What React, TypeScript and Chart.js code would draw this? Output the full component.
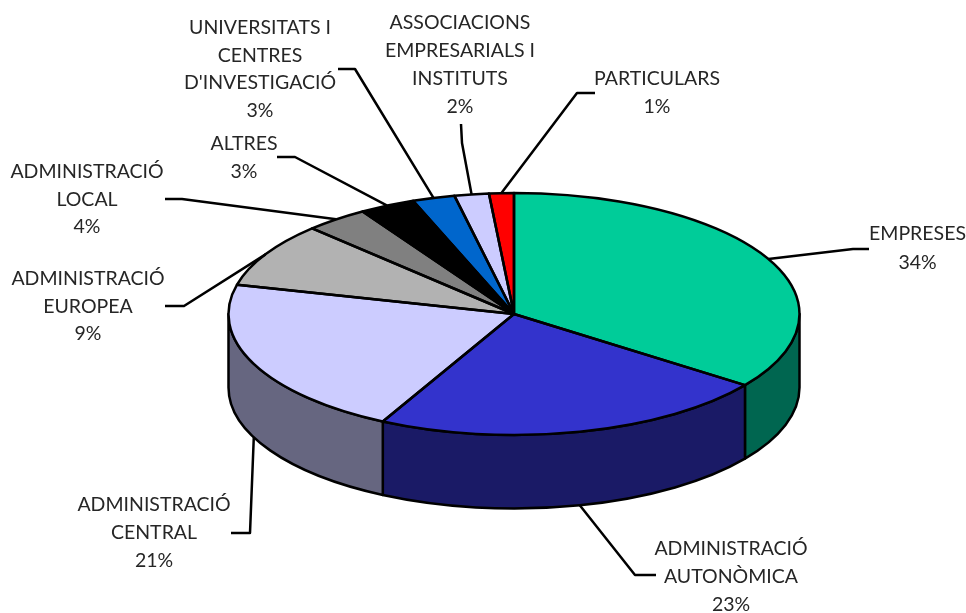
import React, { useEffect, useRef } from "react";
import { Chart, registerables } from "chart.js";

Chart.register(...registerables);

// Category names, one entry per text line
const categories: string[][] = [
  ["EMPRESES"],
  ["ADMINISTRACIÓ", "AUTONÒMICA"],
  ["ADMINISTRACIÓ", "CENTRAL"],
  ["ADMINISTRACIÓ", "EUROPEA"],
  ["ADMINISTRACIÓ", "LOCAL"],
  ["ALTRES"],
  ["UNIVERSITATS I", "CENTRES", "D'INVESTIGACIÓ"],
  ["ASSOCIACIONS", "EMPRESARIALS I", "INSTITUTS"],
  ["PARTICULARS"],
];
// Printed percentages
const percentLabels = ["34%", "23%", "21%", "9%", "4%", "3%", "3%", "2%", "1%"];
const sliceShares = [35.0, 22.6, 21.3, 8.6, 3.6, 3.15, 2.4, 1.95, 1.4];

const topColors = ["#00CC99", "#3333CC", "#CCCCFF", "#B2B2B2", "#808080", "#000000", "#0066CC", "#CCCCFF", "#FF0000"];
const wallColors = ["#006650", "#1A1A66", "#666680", "#595959", "#404040", "#000000", "#003366", "#666680", "#800000"];

// Label placement: text centre, first line middle, line step, leader elbow + end
const labelLayout = [
  { x: 917.5, y: 234, step: 28.5, path: [[853, 249], [869, 249]] },
  { x: 731, y: 549, step: 27.7, path: [[635, 575], [656, 575]] },
  { x: 154, y: 505, step: 28, path: [[250, 533], [231, 533]] },
  { x: 88, y: 279, step: 27.6, path: [[184, 306], [165, 306]] },
  { x: 87, y: 172, step: 27.6, path: [[182, 199], [165, 199]] },
  { x: 244, y: 144, step: 28, path: [[295, 157], [277, 157]] },
  { x: 260, y: 28, step: 27.6, path: [[355, 69], [338, 69]] },
  { x: 460, y: 23, step: 28, path: [[462, 143], [461, 124]] },
  { x: 657, y: 79, step: 27.6, path: [[577, 93], [595, 93]] },
];

const SQUASH = 121 / 285.5;
const DEPTH = 73.5;
const FONT = "400 19.5px Lato, 'Open Sans', sans-serif";
const SPACING = "0px";
const LINE = 2.5;

const pie3d = {
  id: "pie3d",
  beforeDatasetsDraw(chart: any) {
    const ctx = chart.ctx;
    const arcs = chart.getDatasetMeta(0).data;
    const { x: cx, y: cy, outerRadius: rx } = arcs[0];
    const ry = rx * SQUASH;
    ctx.save();
    arcs.forEach((el: any, i: number) => {
      const a0 = Math.max(el.startAngle, 0);
      const a1 = Math.min(el.endAngle, Math.PI);
      if (a1 <= a0) return;
      ctx.beginPath();
      ctx.ellipse(cx, cy, rx, ry, 0, a0, a1);
      ctx.ellipse(cx, cy + DEPTH, rx, ry, 0, a1, a0, true);
      ctx.closePath();
      ctx.fillStyle = wallColors[i];
      ctx.fill();
      ctx.lineWidth = LINE;
      ctx.lineJoin = "round";
      ctx.strokeStyle = "#000";
      ctx.stroke();
    });
    ctx.restore();
    ctx.save();
    ctx.translate(cx, cy);
    ctx.scale(1, SQUASH);
    ctx.translate(-cx, -cy);
  },
  afterDatasetsDraw(chart: any) {
    const ctx = chart.ctx;
    ctx.restore();
    const arcs = chart.getDatasetMeta(0).data;
    const { x: cx, y: cy, outerRadius: rx } = arcs[0];
    const ry = rx * SQUASH;
    ctx.save();
    ctx.strokeStyle = "#000";
    ctx.lineJoin = "round";
    ctx.lineCap = "butt";
    ctx.lineWidth = LINE;
    arcs.forEach((el: any) => {
      ctx.beginPath();
      ctx.moveTo(cx, cy);
      ctx.ellipse(cx, cy, rx, ry, 0, el.startAngle, el.endAngle);
      ctx.closePath();
      ctx.stroke();
    });
    arcs.forEach((el: any, i: number) => {
      const mid = (el.startAngle + el.endAngle) / 2;
      const sy = Math.sin(mid);
      const px = cx + rx * Math.cos(mid);
      const py = cy + ry * sy + (sy > 0 ? DEPTH : 0);
      ctx.beginPath();
      ctx.moveTo(px, py);
      labelLayout[i].path.forEach(([x, y]) => ctx.lineTo(x, y));
      ctx.stroke();
    });
    ctx.fillStyle = "#262626";
    ctx.font = FONT;
    ctx.letterSpacing = SPACING;
    ctx.textAlign = "center";
    ctx.textBaseline = "middle";
    categories.forEach((lines, i) => {
      const l = labelLayout[i];
      [...lines, percentLabels[i]].forEach((t, k) => ctx.fillText(t, l.x, l.y + k * l.step));
    });
    ctx.restore();
  },
};

export default function App() {
  const ref = useRef<HTMLCanvasElement>(null);
  useEffect(() => {
    const chart = new Chart(ref.current as HTMLCanvasElement, {
      type: "pie",
      data: {
        labels: categories.map((c) => c.join(" ")),
        datasets: [{ data: sliceShares, backgroundColor: topColors, borderWidth: 0, clip: false } as any],
      },
      options: {
        responsive: false,
        animation: false,
        devicePixelRatio: 1,
        radius: 285.5,
        events: [],
        layout: { padding: { left: 62, right: 0, top: 15, bottom: 0 } },
        plugins: { legend: { display: false }, tooltip: { enabled: false }, title: { display: false } },
      } as any,
      plugins: [pie3d],
    });
    return () => chart.destroy();
  }, []);
  return <canvas ref={ref} width={966} height={613} style={{ position: "absolute", left: 0, top: 0, background: "#fff" }} />;
}
